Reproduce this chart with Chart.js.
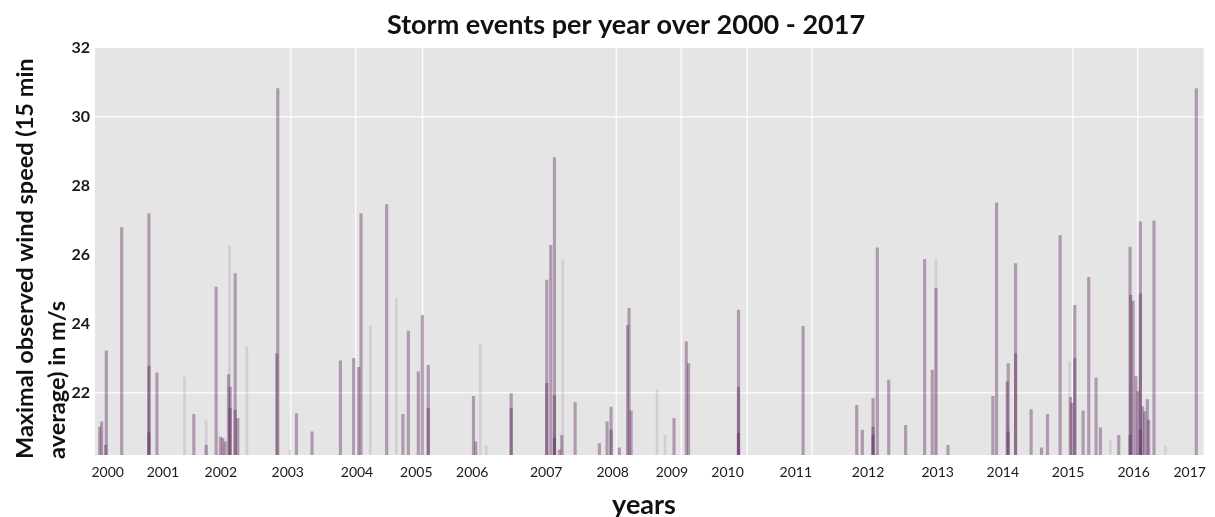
<!DOCTYPE html>
<html>
<head>
<meta charset="utf-8">
<script src="https://cdn.jsdelivr.net/npm/chart.js@4/dist/chart.umd.min.js"></script>
<style>
  html, body { margin: 0; padding: 0; background: #ffffff; }
  #wrap { width: 1215px; height: 517px; }
</style>
</head>
<body>
<div id="wrap"><canvas id="c" width="1215" height="517"></canvas></div>
<script>
// Storm events: date of event (fractional year) and peak 15-min mean wind speed (m/s)
const eventTime = [
  1999.874, 1999.905, 1999.968, 1999.978, 2000.220, 2000.649, 2000.649, 2000.649, 2000.775,
  2001.356, 2001.550, 2001.707, 2001.776, 2001.812, 2001.848, 2001.902, 2001.927, 2001.927,
  2002.006, 2002.006, 2002.048, 2002.661, 2002.677, 2002.971, 2003.216, 2003.663, 2003.872,
  2003.950, 2003.987, 2004.391, 2004.647, 2004.732, 2004.889, 2004.952, 2005.046, 2005.046,
  2005.758, 2005.794, 2006.351, 2006.351, 2006.911, 2006.911, 2006.974, 2007.032, 2007.032,
  2007.032, 2007.110, 2007.147, 2007.357, 2007.739, 2007.860, 2007.923, 2007.923, 2008.054,
  2008.184, 2008.206, 2008.238, 2008.914, 2009.107, 2009.143, 2009.929, 2009.929, 2009.929,
  2010.946, 2011.790, 2011.878, 2012.047, 2012.047, 2012.047, 2012.114, 2012.293, 2012.560,
  2012.859, 2012.979, 2013.037, 2013.226, 2013.933, 2013.991, 2014.158, 2014.174, 2014.174,
  2014.290, 2014.290, 2014.535, 2014.699, 2014.793, 2014.991, 2015.155, 2015.180, 2015.222,
  2015.222, 2015.353, 2015.442, 2015.557, 2015.626, 2015.914, 2016.092, 2016.103, 2016.092,
  2016.139, 2016.186, 2016.217, 2016.255, 2016.255, 2016.255, 2016.291, 2016.323, 2016.365,
  2016.386, 2016.469, 2017.135
];
const windSpeed = [
  21.01, 21.16, 20.48, 23.22, 26.79, 27.20, 22.78, 20.84, 22.58,
  21.38, 20.48, 25.07, 20.72, 20.68, 20.58, 22.53, 22.17, 21.55,
  25.46, 21.50, 21.26, 23.14, 30.82, 21.40, 20.87, 22.93, 23.00,
  22.74, 27.20, 27.46, 21.38, 23.79, 22.61, 24.25, 22.80, 21.55,
  21.90, 20.58, 21.98, 21.55, 25.27, 22.28, 26.28, 28.82, 21.92,
  20.68, 20.34, 20.77, 21.72, 20.53, 21.16, 21.59, 20.93, 20.41,
  23.96, 24.45, 21.48, 21.26, 23.48, 22.85, 24.40, 22.16, 20.83,
  23.93, 21.64, 20.92, 21.84, 21.01, 20.77, 26.21, 22.37, 21.06,
  25.87, 22.66, 25.03, 20.48, 21.90, 27.51, 22.32, 22.85, 20.87,
  23.14, 25.75, 21.52, 20.41, 21.38, 26.57, 21.87, 21.70, 24.54,
  23.00, 21.48, 25.35, 22.44, 20.99, 20.77, 26.23, 24.83, 20.77,
  24.66, 22.47, 22.04, 26.96, 24.87, 20.92, 21.60, 21.46, 21.81,
  21.21, 26.99, 30.82
];

// Short-lived events, drawn lighter
const minorTime = [
  2001.210, 2001.550, 2001.918, 2002.190, 2002.866, 2004.134, 2004.543, 2005.864,
  2005.958, 2007.162, 2008.646, 2008.772, 2013.037, 2015.139, 2015.783, 2016.648
];
const minorSpeed = [
  22.46, 21.20, 26.28, 23.35, 20.34, 23.96, 24.74, 23.41,
  20.48, 25.85, 22.10, 20.77, 25.85, 22.90, 20.63, 20.45
];

// Axis labelling
const yearLabels = ['2000','2001','2002','2003','2004','2005','2006','2007','2008',
                    '2009','2010','2011','2012','2013','2014','2015','2016','2017'];
const yearLabelAt = [2000.000, 2000.869, 2001.781, 2002.834, 2003.924, 2004.857, 2005.738,
                     2006.901, 2007.948, 2008.882, 2009.756, 2010.831, 2011.968, 2013.064,
                     2014.090, 2015.117, 2016.150, 2017.030];
const yearGridAt = [2002.881, 2003.903, 2004.956, 2008.006, 2009.028, 2010.066, 2011.088,
                    2015.191, 2016.213];
const speedTicks = [22, 24, 26, 28, 30, 32];
const speedGridShown = [22, 30];
const speedMin = 20.2, speedMax = 32;
const timeMin = 1999.8, timeMax = 2017.25;

const chartTitle = 'Storm events per year over 2000 - 2017';
const yTitleLines = ['Maximal observed wind speed (15 min', 'average) in m/s'];
const xTitle = 'years';

Chart.defaults.font.family = 'Lato, "Open Sans", sans-serif';

const toPoints = (xs, ys) => xs.map((x, i) => ({ x: x, y: ys[i] }));

// Grey panel behind the plot plus the white year separators
const panel = {
  id: 'panel',
  beforeDraw(chart) {
    const { ctx, chartArea: a, scales } = chart;
    ctx.save();
    ctx.fillStyle = '#e5e5e5';
    ctx.fillRect(a.left, a.top, a.right - a.left, a.bottom - a.top);
    ctx.strokeStyle = 'rgba(255,255,255,0.8)';
    ctx.lineWidth = 1.5;
    yearGridAt.forEach(v => {
      const px = scales.x.getPixelForValue(v);
      ctx.beginPath();
      ctx.moveTo(px, a.top);
      ctx.lineTo(px, a.bottom);
      ctx.stroke();
    });
    ctx.restore();
  },
  afterDraw(chart) {
    const { ctx } = chart;
    ctx.save();
    ctx.fillStyle = '#111111';
    ctx.textBaseline = 'middle';
    // main title
    ctx.font = 'bold 27px Lato, sans-serif';
    ctx.textAlign = 'center';
    ctx.fillText(chartTitle, 626, 25);
    // x title
    ctx.font = 'bold 27px Lato, sans-serif';
    ctx.fillText(xTitle, 644, 505);
    // y title, two lines, starting from the bottom
    ctx.font = 'bold 23.5px Lato, sans-serif';
    ctx.translate(0, 459);
    ctx.rotate(-Math.PI / 2);
    ctx.textAlign = 'left';
    ctx.fillText(yTitleLines[0], 0, 25);
    ctx.fillText(yTitleLines[1], 0, 57);
    ctx.restore();
  }
};

new Chart(document.getElementById('c'), {
  type: 'bar',
  data: {
    datasets: [
      {
        label: 'storm events',
        data: toPoints(eventTime, windSpeed),
        backgroundColor: 'rgba(92,40,92,0.40)',
        borderWidth: 0,
        barThickness: 2.5,
        base: speedMin,
        grouped: false
      },
      {
        label: 'minor events',
        data: toPoints(minorTime, minorSpeed),
        backgroundColor: 'rgba(92,40,92,0.12)',
        borderWidth: 0,
        barThickness: 2,
        base: speedMin,
        grouped: false
      }
    ]
  },
  options: {
    responsive: false,
    animation: false,
    devicePixelRatio: 1,
    layout: { padding: { top: 48, right: 10, left: 0, bottom: 0 } },
    plugins: {
      legend: { display: false },
      tooltip: { enabled: false },
      title: { display: false }
    },
    scales: {
      x: {
        type: 'linear',
        offset: false,
        min: timeMin,
        max: timeMax,
        grid: { display: false, drawTicks: false, offset: false },
        border: { display: false },
        afterBuildTicks(scale) {
          scale.ticks = yearLabelAt.map(v => ({ value: v }));
        },
        afterFit(scale) { scale.height = 62; },
        ticks: {
          autoSkip: false,
          maxRotation: 0,
          padding: 9,
          color: '#1a1a1a',
          font: { size: 14 },
          callback: (value, index) => yearLabels[index]
        }
      },
      y: {
        min: speedMin,
        max: speedMax,
        afterBuildTicks(scale) {
          scale.ticks = speedTicks.map(v => ({ value: v }));
        },
        afterFit(scale) { scale.width = 95; },
        grid: {
          drawTicks: false,
          lineWidth: 1.5,
          color: ctx => speedGridShown.includes(ctx.tick && ctx.tick.value)
            ? 'rgba(255,255,255,0.75)' : 'rgba(0,0,0,0)'
        },
        border: { display: false },
        ticks: {
          padding: 5,
          color: '#1a1a1a',
          font: { size: 16, weight: 'bold' }
        }
      }
    }
  },
  plugins: [panel]
});
</script>
</body>
</html>
